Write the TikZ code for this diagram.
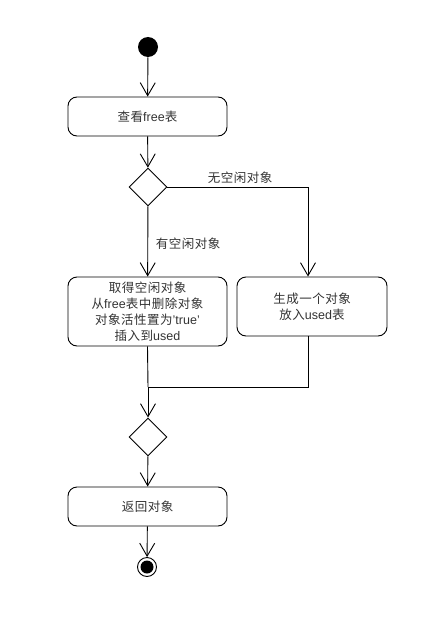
\documentclass[tikz,border=0pt]{standalone}
\usepackage{fontspec}
\setmainfont{Liberation Sans}
\newfontfamily\cjk[LetterSpace=4]{Noto Sans CJK SC}
\usetikzlibrary{arrows.meta,shapes.geometric}
\begin{document}
\begin{tikzpicture}[x=1pt,y=-1pt,
  line width=0.9pt,
  every node/.style={font=\fontsize{12.5}{16}\selectfont, text=black!80},
  act/.style={draw=black, rounded corners=9pt, minimum width=159pt, align=center, inner sep=0pt},
  dec/.style={draw=black, diamond, minimum width=38pt, minimum height=38pt, inner sep=0pt},
  flow/.style={-{Straight Barb[length=13pt,width=15pt,line width=0.9pt]}},
  lbl/.style={font=\fontsize{12.5}{16}\selectfont}
]
\useasboundingbox (0,0) rectangle (424,618);
\node[circle, fill=black, minimum size=20pt, inner sep=0pt] (start) at (148,47) {};
\node[act, minimum height=39pt] (look) at (147.5,116.5) {{\cjk 查看}free{\cjk 表}};
\node[dec] (d1) at (148,187) {};
\node[act, minimum height=69pt] (take) at (147.5,311.5) {{\cjk 取得空闲对象}\\{\cjk 从}free{\cjk 表中删除对象}\\{\cjk 对象活性置为}'true'\\{\cjk 插入到}used};
\node[act, minimum width=150pt, minimum height=59pt] (make) at (312,306.5) {{\cjk 生成一个对象}\\{\cjk 放入}used{\cjk 表}};
\coordinate (jr) at (308,387);
\coordinate (jl) at (148,387);
\node[dec] (d2) at (148,437) {};
\node[act, minimum height=39pt] (ret) at (147.5,506.5) {{\cjk 返回对象}};
\node[circle, draw=black, line width=0.9pt, minimum size=19pt, inner sep=0pt] (end) at (147,567) {};
\node[circle, fill=black, minimum size=13pt, inner sep=0pt] (endin) at (end.center) {};

\draw[flow] (start) -- (look);
\draw[flow] (look) -- (d1);
\draw[flow] (d1.east) -- (308,187) coordinate (cr) -- (cr |- make.north);
\node[lbl, anchor=base] (nolbl) at (240,182) {\cjk 无空闲对象};
\draw[flow] (d1) -- (take);
\node[lbl, anchor=west] (yeslbl) at (152,244) {\cjk 有空闲对象};
\draw (take.south) -- (jl);
\draw (make.south -| jr) -- (jr) -- (jl);
\draw[flow] (jl) -- (d2);
\draw[flow] (d2) -- (ret);
\draw[flow] (ret) -- (end);
\end{tikzpicture}
\end{document}
